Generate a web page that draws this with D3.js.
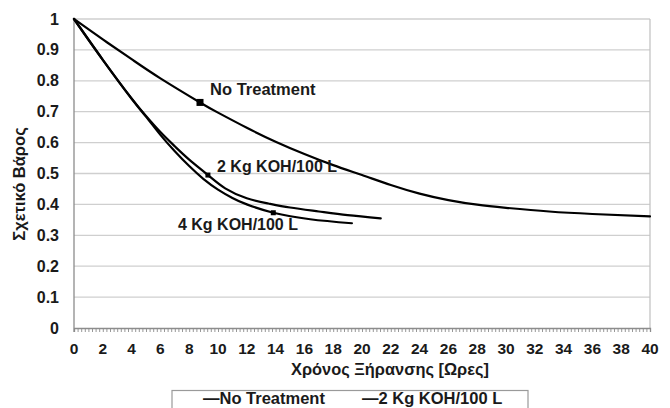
<!DOCTYPE html>
<html>
<head>
<meta charset="utf-8">
<script src="https://cdn.jsdelivr.net/npm/d3@7"></script>
<style>
  html, body { margin: 0; padding: 0; background: #fff; }
  svg { display: block; font-family: "Liberation Sans", Arial, sans-serif; }
</style>
</head>
<body>
<svg id="chart" width="670" height="408"></svg>
<script>
// Drying time (hours) and relative weight for each treatment
const seriesNames = ["No Treatment", "2 Kg KOH/100 L", "4 Kg KOH/100 L"];

const noTreatmentHours  = [0, 2, 4, 6, 8.75, 10, 12, 14, 16, 18, 20, 22, 24, 26, 28, 30, 33, 36, 40];
const noTreatmentWeight = [1, 0.934, 0.87, 0.808, 0.73, 0.697, 0.648, 0.603, 0.563, 0.527, 0.495, 0.463, 0.435, 0.414, 0.399, 0.389, 0.377, 0.369, 0.361];

const koh2Hours  = [0, 2, 4, 5, 6, 7, 8, 9.3, 10.5, 12, 13.5, 15, 17, 19, 21.3];
const koh2Weight = [1, 0.868, 0.743, 0.686, 0.634, 0.588, 0.545, 0.495, 0.452, 0.42, 0.403, 0.39, 0.377, 0.365, 0.355];

const koh4Hours  = [0, 2, 4, 5, 6, 7, 8, 9, 10, 11, 12, 13.84, 16.4, 19.3];
const koh4Weight = [1, 0.868, 0.742, 0.684, 0.625, 0.572, 0.524, 0.482, 0.448, 0.421, 0.4, 0.373, 0.352, 0.339];

// One highlighted point per curve
const markerHours  = [8.75, 9.3, 13.84];
const markerWeight = [0.73, 0.495, 0.373];

const xTicks = d3.range(0, 41, 2);
const yTicks = [0, 0.1, 0.2, 0.3, 0.4, 0.5, 0.6, 0.7, 0.8, 0.9, 1];
const yTickLabels = ["0", "0.1", "0.2", "0.3", "0.4", "0.5", "0.6", "0.7", "0.8", "0.9", "1"];

const xTitle = "Χρόνος Ξήρανσης [Ωρες]";
const yTitle = "Σχετικό Βάρος";

const svg = d3.select("#chart");
const plotLeft = 74, plotRight = 650, plotTop = 19, plotBottom = 328;

const x = d3.scaleLinear().domain([0, 40]).range([plotLeft, plotRight]);
const y = d3.scaleLinear().domain([0, 1]).range([plotBottom, plotTop]);

const textColor = "#1a1a1a";

// Horizontal gridlines
svg.append("g")
  .selectAll("line")
  .data(yTicks.filter(d => d > 0))
  .join("line")
  .attr("x1", plotLeft).attr("x2", plotRight)
  .attr("y1", d => y(d)).attr("y2", d => y(d))
  .attr("stroke", "#cfcfcf").attr("stroke-width", 1.3);

// Right border of the plot area
svg.append("line")
  .attr("x1", plotRight).attr("x2", plotRight)
  .attr("y1", plotTop).attr("y2", plotBottom)
  .attr("stroke", "#c4c4c4").attr("stroke-width", 1.3);

// X axis with fine minor ticks every quarter hour
const xAxis = d3.axisBottom(x)
  .tickValues(d3.range(0, 40.01, 0.25))
  .tickSize(4)
  .tickFormat("");
const gx = svg.append("g").attr("transform", `translate(0,${plotBottom})`).call(xAxis);
gx.select(".domain").attr("stroke", "#8c8c8c").attr("stroke-width", 1.3);
gx.selectAll(".tick line").attr("stroke", "#8c8c8c").attr("stroke-width", 0.9);

// X tick labels
svg.append("g")
  .selectAll("text")
  .data(xTicks)
  .join("text")
  .attr("x", d => x(d))
  .attr("y", 354)
  .attr("text-anchor", "middle")
  .attr("font-size", 15.5)
  .attr("font-weight", "bold")
  .attr("fill", textColor)
  .text(d => d);

// Y axis line
svg.append("line")
  .attr("x1", plotLeft).attr("x2", plotLeft)
  .attr("y1", plotTop).attr("y2", plotBottom + 4)
  .attr("stroke", "#8c8c8c").attr("stroke-width", 1.3);

// Y tick labels
svg.append("g")
  .selectAll("text")
  .data(yTicks)
  .join("text")
  .attr("x", 59)
  .attr("y", d => y(d) + 5.5)
  .attr("text-anchor", "end")
  .attr("font-size", 16)
  .attr("font-weight", "bold")
  .attr("fill", textColor)
  .text((d, i) => yTickLabels[i]);

// Axis titles
svg.append("text")
  .attr("x", 390)
  .attr("y", 375)
  .attr("text-anchor", "middle")
  .attr("font-size", 16.4)
  .attr("font-weight", "bold")
  .attr("fill", textColor)
  .text(xTitle);

svg.append("text")
  .attr("transform", "translate(25,184) rotate(-90)")
  .attr("text-anchor", "middle")
  .attr("font-size", 16.5)
  .attr("font-weight", "bold")
  .attr("fill", textColor)
  .text(yTitle);

// Curves
const line = d3.line()
  .x(d => x(d[0]))
  .y(d => y(d[1]))
  .curve(d3.curveNatural);

const curves = [
  d3.zip(noTreatmentHours, noTreatmentWeight),
  d3.zip(koh2Hours, koh2Weight),
  d3.zip(koh4Hours, koh4Weight)
];

svg.append("g")
  .selectAll("path")
  .data(curves)
  .join("path")
  .attr("d", line)
  .attr("fill", "none")
  .attr("stroke", "#000")
  .attr("stroke-width", 2.2)
  .attr("stroke-linejoin", "round")
  .attr("stroke-linecap", "round");

// Square markers
const markerSize = [7, 5, 5];
svg.append("g")
  .selectAll("rect")
  .data(markerHours)
  .join("rect")
  .attr("x", (d, i) => x(d) - markerSize[i] / 2)
  .attr("y", (d, i) => y(markerWeight[i]) - markerSize[i] / 2)
  .attr("width", (d, i) => markerSize[i])
  .attr("height", (d, i) => markerSize[i])
  .attr("fill", "#000");

// Curve labels
const labelAnchors = [
  { x: 9.45, y: 0.754, size: 16.5 },
  { x: 9.93, y: 0.506, size: 16 },
  { x: 7.22, y: 0.318, size: 16 }
];
svg.append("g")
  .selectAll("text")
  .data(seriesNames)
  .join("text")
  .attr("x", (d, i) => x(labelAnchors[i].x))
  .attr("y", (d, i) => y(labelAnchors[i].y))
  .attr("font-size", (d, i) => labelAnchors[i].size)
  .attr("font-weight", "bold")
  .attr("fill", textColor)
  .text(d => d);

// Legend (partially cut off at the bottom edge)
svg.append("rect")
  .attr("x", 172).attr("y", 390.5)
  .attr("width", 356).attr("height", 40)
  .attr("fill", "#fff")
  .attr("stroke", "#9a9a9a")
  .attr("stroke-width", 1.2);

const legendX = [203, 362];
seriesNames.slice(0, 2).forEach((name, i) => {
  svg.append("text")
    .attr("x", legendX[i])
    .attr("y", 404)
    .attr("font-size", 16.5)
    .attr("font-weight", "bold")
    .attr("fill", textColor)
    .text("—" + name);
});
</script>
</body>
</html>
